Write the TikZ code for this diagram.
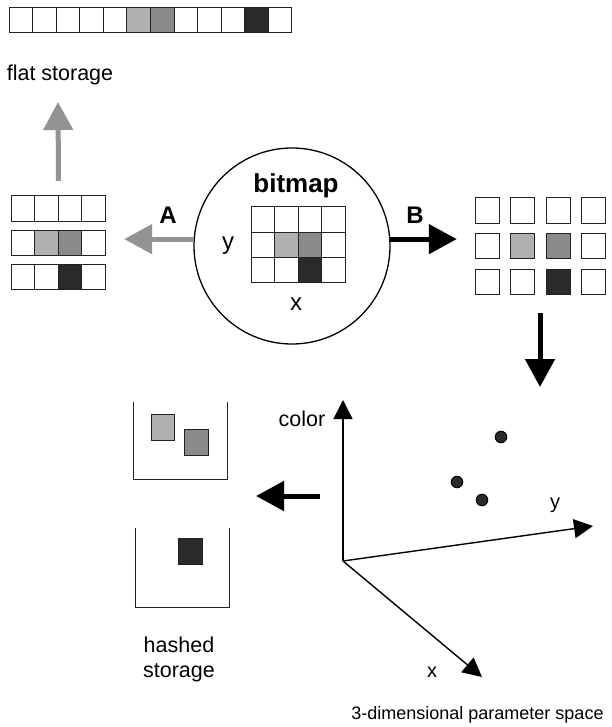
\documentclass[tikz,border=0pt]{standalone}
\usepackage{fontspec}
\setmainfont{Liberation Sans}
\usetikzlibrary{arrows.meta}
\definecolor{cLight}{HTML}{B0B0B0}
\definecolor{cMid}{HTML}{8A8A8A}
\definecolor{cDark}{HTML}{2A2A2A}
\definecolor{cArrow}{HTML}{939393}
\definecolor{cLine}{HTML}{222222}
\begin{document}
\begin{tikzpicture}[x=1pt,y=-1pt,
  cell/.style={draw=cLine, line width=1pt},
  garrow/.style={draw=cArrow, line width=5pt, -{Triangle[length=28pt,width=29pt]}},
  barrow/.style={draw=black, line width=5pt, -{Triangle[length=28pt,width=29pt]}},
  axis/.style={draw=black, line width=1.4pt, -{Triangle[length=19pt,width=19pt]}},
  bin/.style={draw=cLine, line width=1pt},
  lbl/.style={font=\fontsize{21.5}{25}\selectfont, anchor=base, inner sep=0pt},
  biglbl/.style={font=\fontsize{24}{28}\selectfont, anchor=base, inner sep=0pt},
  boldlbl/.style={font=\fontsize{24}{28}\selectfont\bfseries, anchor=base, inner sep=0pt},
  area/.style={inner sep=0pt, draw=none},
  dot/.style={circle, draw=black, fill=cDark, line width=1pt, minimum size=11.5pt, inner sep=0pt}
]
\useasboundingbox (0,0) rectangle (611,727);

% ---------- flat storage strip ----------
\foreach \c [count=\i from 0] in {white,white,white,white,white,cLight,cMid,white,white,white,cDark,white}
  \draw[cell, fill=\c] (9.3+\i*23.53,7.3) rectangle ++(23.53,25);
\node[area, minimum width=282pt, minimum height=25pt] (strip) at (150.5,19.8) {};
\node[lbl] (flat) at (60,80.5) {flat storage};

% ---------- left stack of rows ----------
\node[area, minimum width=95pt, minimum height=93pt] (lstack) at (58.5,242.5) {};
\foreach \c [count=\i from 0] in {white,white,white,white}
  \draw[cell, fill=\c] (11+\i*23.6,196) rectangle ++(23.6,25);
\foreach \c [count=\i from 0] in {white,cLight,cMid,white}
  \draw[cell, fill=\c] (11+\i*23.6,230) rectangle ++(23.6,25);
\foreach \c [count=\i from 0] in {white,white,cDark,white}
  \draw[cell, fill=\c] (11+\i*23.6,264) rectangle ++(23.6,25);

% ---------- bitmap circle ----------
\node[circle, draw=black, line width=1.3pt, minimum size=196pt, inner sep=0pt] (bm) at (292,246) {};
\node[boldlbl, font=\fontsize{26}{30}\selectfont\bfseries] (bmt) at (296,193) {bitmap};
\foreach \c [count=\i from 0] in {white,white,white,white}
  \draw[cell, fill=\c] (251+\i*23.5,207) rectangle ++(23.5,25);
\foreach \c [count=\i from 0] in {white,cLight,cMid,white}
  \draw[cell, fill=\c] (251+\i*23.5,232) rectangle ++(23.5,25);
\foreach \c [count=\i from 0] in {white,white,cDark,white}
  \draw[cell, fill=\c] (251+\i*23.5,257) rectangle ++(23.5,25);
\node[biglbl] (by) at (228,249.5) {y};
\node[biglbl] (bx) at (296,310) {x};

% ---------- right separated grid ----------
\node[area, minimum width=130pt, minimum height=96pt] (rgrid) at (540,246) {};
\foreach \c [count=\i from 0] in {white,white,white,white}
  \draw[cell, fill=\c] (475+\i*35.5,198) rectangle ++(24,25);
\foreach \c [count=\i from 0] in {white,cLight,cMid,white}
  \draw[cell, fill=\c] (475+\i*35.5,233.5) rectangle ++(24,25);
\foreach \c [count=\i from 0] in {white,white,cDark,white}
  \draw[cell, fill=\c] (475+\i*35.5,269) rectangle ++(24,25);

% ---------- arrows A, B, up, down ----------
\coordinate (upS) at ([yshift=15pt]lstack.north);
\coordinate (upT) at (58,102);
\draw[garrow] (upS) -- (upT);
\coordinate (aT) at ([xshift=18pt]lstack.east |- bm.176);
\draw[garrow] (bm.176) -- (aT);
\node[boldlbl] (la) at (168,223) {A};
\coordinate (bT) at ([xshift=-18pt]rgrid.west |- bm.4);
\draw[barrow] (bm.4) -- (bT);
\node[boldlbl] (lb) at (415,223) {B};
\coordinate (dS) at ([yshift=-19pt]rgrid.south);
\coordinate (dT) at (540,387);
\draw[barrow] (dS) -- (dT);

% ---------- 3D parameter space ----------
\coordinate (O) at (343,561);
\coordinate (Cc) at (343,400);
\coordinate (Yy) at (593,526);
\coordinate (Xx) at (482,677);
\draw[axis] (O) -- (Cc);
\draw[axis] (O) -- (Yy);
\draw[axis] (O) -- (Xx);
\node[lbl] (lcolor) at (302,426) {color};
\node[lbl, font=\fontsize{20}{24}\selectfont] (ly) at (555,508.5) {y};
\node[lbl, font=\fontsize{20}{24}\selectfont] (lx) at (432,677) {x};
\node[dot] (p1) at (501,437) {};
\node[dot] (p2) at (457,482) {};
\node[dot] (p3) at (482,500) {};
\node[lbl, font=\fontsize{18}{22}\selectfont] (lspace) at (477.5,719) {3-dimensional parameter space};

% ---------- hashed storage ----------
\draw[bin] (133,402) -- (133,479) -- (227,479) -- (227,402);
\draw[bin] (135,528) -- (135,607) -- (229,607) -- (229,528);
\node[area, minimum width=94pt, minimum height=77pt] (bin1) at (180,440.5) {};
\node[area, minimum width=94pt, minimum height=79pt] (bin2) at (182,567.5) {};
\draw[cell, fill=cLight] (151,414) rectangle (174,440);
\draw[cell, fill=cMid] (184,429) rectangle (208,455);
\draw[cell, fill=cDark] (178,538) rectangle (202,564);
\coordinate (hS) at (320,496);
\coordinate (hT) at (256,496);
\draw[barrow] (hS) -- (hT);
\node[lbl] (lhash) at (179,652) {hashed};
\node[lbl] (lstor) at (179,677) {storage};
\end{tikzpicture}
\end{document}
